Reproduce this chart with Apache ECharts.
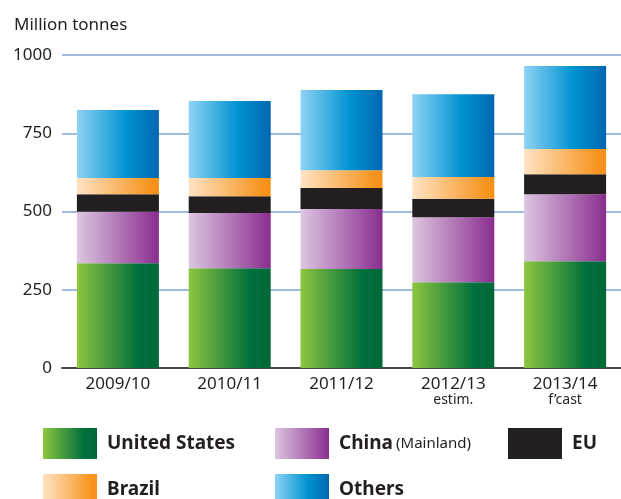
<!DOCTYPE html>
<html>
<head>
<meta charset="utf-8">
<script src="https://cdn.jsdelivr.net/npm/echarts@6/dist/echarts.min.js"></script>
<style>
  html, body { margin: 0; padding: 0; background: #ffffff; }
  #chart { width: 621px; height: 499px; }
</style>
</head>
<body>
<div id="chart"></div>
<script>
// Crop years and their notes under the axis
const seasons = ['2009/10', '2010/11', '2011/12', '2012/13', '2013/14'];
const seasonNotes = ['', '', '', 'estim.', 'f\u2019cast'];

// Production by origin, million tonnes
const unitedStates = [335, 319, 316, 274, 341];
const china = [164, 176, 192, 208, 214];
const eu = [56, 54, 67, 59, 64];
const brazil = [52, 58, 57, 69, 81];
const others = [217, 246, 256, 265, 265];

// Value axis ticks
const yTicks = [0, 250, 500, 750, 1000];

const FONT = '"Noto Sans", "Open Sans", sans-serif';
const INK = '#231f20';

function hGrad(stops) {
  return {
    type: 'linear', x: 0, y: 0, x2: 1, y2: 0,
    colorStops: stops.map(s => ({ offset: s[0], color: s[1] }))
  };
}

const fills = {
  us: hGrad([[0, '#8dc63f'], [0.75, '#00703c'], [1, '#006837']]),
  china: hGrad([[0, '#dcc6e0'], [1, '#8a2d8f']]),
  eu: INK,
  brazil: hGrad([[0, '#ffe3c4'], [0.9, '#f7941d'], [1, '#f7901a']]),
  others: hGrad([[0, '#8ed3f4'], [0.6, '#0093d1'], [1, '#0067b1']])
};

function barSeries(name, data, color) {
  return {
    name: name,
    type: 'bar',
    stack: 'total',
    data: data,
    barWidth: 82,
    itemStyle: { color: color },
    emphasis: { disabled: true }
  };
}

function legendFormatter(name) {
  if (name === 'China') return '{b|China} {r|(Mainland)}';
  return '{b|' + name + '}';
}

// One legend block per entry, laid out on a two-row grid
function legendItem(name, left, top) {
  return {
    data: [name],
    left: left, top: top, padding: 0,
    itemWidth: 54, itemHeight: 31,
    icon: 'rect',
    selectedMode: false,
    formatter: legendFormatter,
    textStyle: {
      padding: [0, 0, 0, 5],
      fontFamily: FONT,
      color: INK,
      rich: {
        b: { fontSize: 19, fontWeight: 'bold', color: INK, fontFamily: FONT },
        r: { fontSize: 15, color: INK, fontFamily: FONT }
      }
    }
  };
}

const chart = echarts.init(document.getElementById('chart'), null, { renderer: 'canvas' });

chart.setOption({
  animation: false,
  backgroundColor: '#ffffff',
  title: {
    text: 'Million tonnes',
    left: 14,
    top: 17,
    padding: 0,
    textStyle: { fontFamily: FONT, fontSize: 17, fontWeight: 'normal', color: INK }
  },
  legend: [
    legendItem('United States', 43, 428),
    legendItem('China', 275, 428),
    legendItem('EU', 508, 428),
    legendItem('Brazil', 43, 474),
    legendItem('Others', 275, 474)
  ],
  grid: { left: 62, right: -2, top: 55, height: 313, containLabel: false },
  xAxis: {
    type: 'category',
    data: seasons,
    axisTick: { show: false },
    axisLine: { show: true, lineStyle: { color: '#454545', width: 2 } },
    axisLabel: {
      margin: 7,
      interval: 0,
      formatter: function (v, i) {
        return seasonNotes[i] ? '{m|' + v + '}\n{s|' + seasonNotes[i] + '}' : '{m|' + v + '}';
      },
      rich: {
        m: { fontFamily: FONT, fontSize: 17, lineHeight: 18, color: INK },
        s: { fontFamily: FONT, fontSize: 14, lineHeight: 14, color: INK }
      }
    }
  },
  yAxis: {
    type: 'value',
    min: yTicks[0],
    max: yTicks[yTicks.length - 1],
    interval: yTicks[1] - yTicks[0],
    axisLine: { show: false },
    axisTick: { show: false },
    axisLabel: {
      margin: 10, fontFamily: FONT, fontSize: 17, color: INK,
      formatter: function (v) { return String(v); }
    },
    splitLine: { lineStyle: { color: '#a4b9e0', width: 2 } }
  },
  series: [
    barSeries('United States', unitedStates, fills.us),
    barSeries('China', china, fills.china),
    barSeries('EU', eu, fills.eu),
    barSeries('Brazil', brazil, fills.brazil),
    barSeries('Others', others, fills.others)
  ]
});
</script>
</body>
</html>
